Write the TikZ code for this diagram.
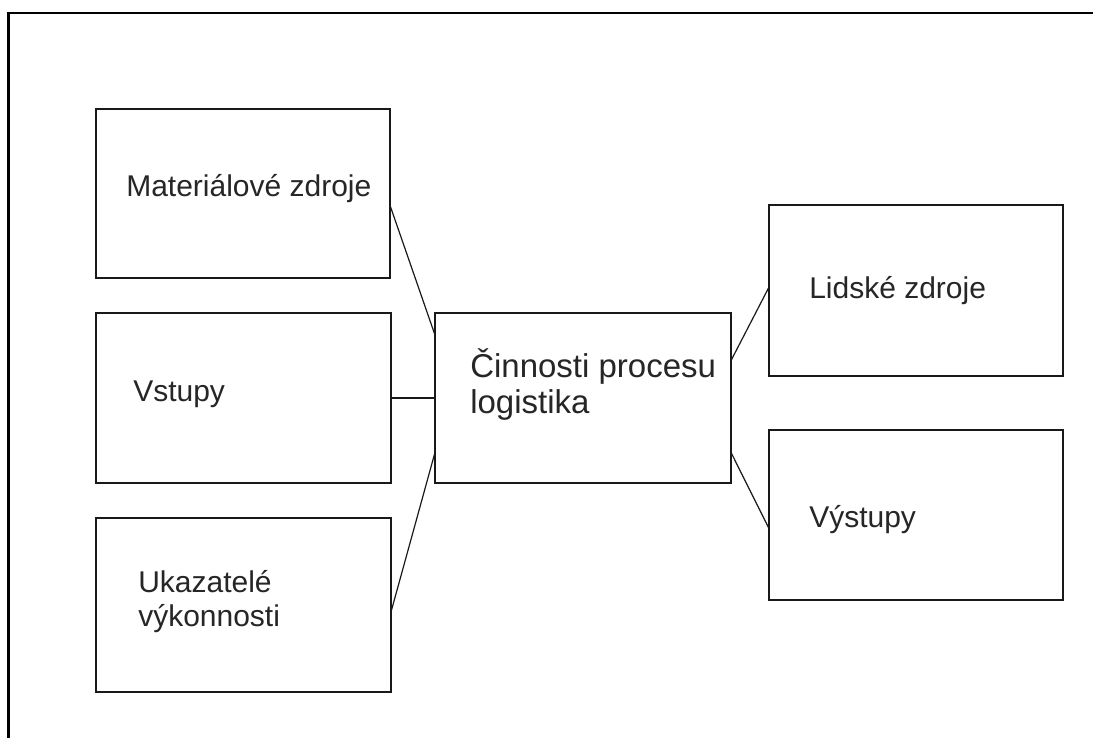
\documentclass[tikz,border=0pt]{standalone}
\usepackage{fontspec}
\setmainfont{Liberation Sans}
\usetikzlibrary{calc, positioning}

\begin{document}
\begin{tikzpicture}[
    x=0.75pt, y=-0.75pt,
    box/.style={
        rectangle, draw=black!90, line width=1.5pt, fill=white,
        inner sep=0pt, outer sep=0pt
    },
    txt/.style={
        anchor=base west, inner sep=0pt, align=left, text=black!85,
        font=\fontsize{22.5}{25}\selectfont
    },
    link/.style={line width=0.9pt, black!90},
    frame/.style={line width=1.6pt, black}
]

\useasboundingbox (0,0) rectangle (1093,738);

% ===================================================================
% FRAME
% ===================================================================
\draw[frame] (8.5,738) -- (8.5,13) -- (1093,13);

% ===================================================================
% LEFT COLUMN
% ===================================================================
\node[box, minimum width=220.5pt, minimum height=126.75pt] (mat) at (243,193.5) {};
\node[txt] (matlbl) at (126,197) {Materiálové zdroje};

\node[box, minimum width=221.25pt, minimum height=127.5pt] (vst) at (243.5,398) {};
\node[txt] (vstlbl) at (133,401) {Vstupy};

\node[box, minimum width=221.25pt, minimum height=130.5pt] (ukz) at (243.5,605) {};
% base anchor sits on the last line
\node[txt] (ukzlbl) at (138,626) {Ukazatelé\\výkonnosti};

% ===================================================================
% CENTRE
% ===================================================================
\node[box, minimum width=222pt, minimum height=127.5pt] (proc) at (583,398) {};
\node[txt, font=\fontsize{24.75}{27}\selectfont] (proclbl) at (470,413)
    {Činnosti procesu\\logistika};

% ===================================================================
% RIGHT COLUMN
% ===================================================================
\node[box, minimum width=220.5pt, minimum height=128.25pt] (lid) at (916,290.5) {};
\node[txt] (lidlbl) at (809,298) {Lidské zdroje};

\node[box, minimum width=220.5pt, minimum height=127.5pt] (vys) at (916,515) {};
\node[txt] (vyslbl) at (809,527) {Výstupy};

% ===================================================================
% CONNECTORS
% ===================================================================
\draw[link] ($(mat.north east)!0.57!(mat.south east)$)
    -- ($(proc.north west)!0.13!(proc.south west)$);
\draw[link] (vst.east) -- (proc.west);
\draw[link] ($(proc.north west)!0.82!(proc.south west)$)
    -- ($(ukz.north east)!0.54!(ukz.south east)$);

\draw[link] ($(proc.north east)!0.28!(proc.south east)$)
    -- ($(lid.north west)!0.48!(lid.south west)$);
\draw[link] ($(proc.north east)!0.82!(proc.south east)$)
    -- ($(vys.north west)!0.58!(vys.south west)$);

\end{tikzpicture}
\end{document}
